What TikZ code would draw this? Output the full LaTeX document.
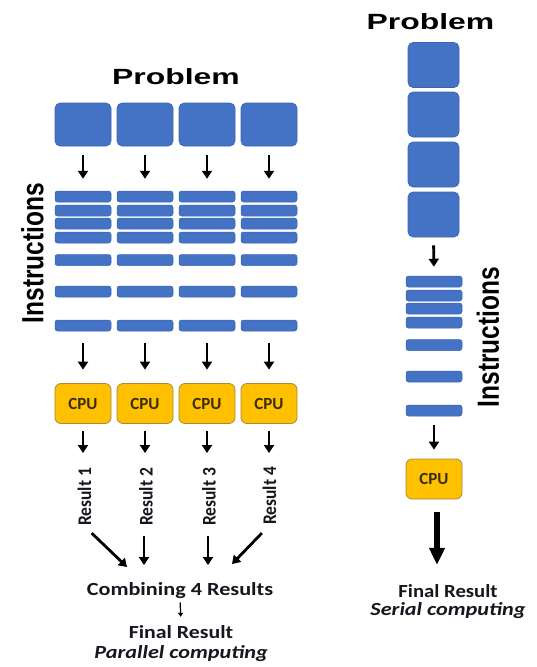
\documentclass[tikz,border=0pt]{standalone}
\usepackage{graphicx}
\usepackage{fontspec}
\setmainfont{Carlito}
\newfontfamily\arialf{Liberation Sans}
\usetikzlibrary{arrows.meta}
\definecolor{blk}{HTML}{4472C4}
\definecolor{blkdark}{HTML}{3A64B0}
\definecolor{cpuf}{HTML}{FFC000}
\definecolor{cpud}{HTML}{A88A3A}
\definecolor{txtd}{HTML}{16161E}
\definecolor{cputxt}{HTML}{3A2E10}
\begin{document}
\begin{tikzpicture}[x=1pt,y=-1pt,
  probbox/.style={rectangle, rounded corners=5pt, fill=blk, draw=blkdark, line width=0.6pt, minimum width=56pt, minimum height=43pt, inner sep=0pt},
  probboxr/.style={probbox, minimum width=51pt, minimum height=45pt},
  instbar/.style={rectangle, rounded corners=2.5pt, fill=blk, draw=blkdark, line width=0.5pt, minimum width=56pt, minimum height=11pt, inner sep=0pt},
  cpubox/.style={rectangle, rounded corners=6pt, fill=cpuf, draw=cpud, line width=0.8pt, minimum width=56pt, minimum height=40pt, inner sep=0pt, font=\fontsize{17}{17}\selectfont\bfseries, text=cputxt},
  arr/.style={-{Triangle[length=8pt,width=10pt]}, line width=2.8pt, black},
  bigarr/.style={-{Triangle[length=17pt,width=15pt]}, line width=5.5pt, black},
  smallarr/.style={-{Triangle[length=4pt,width=5pt]}, line width=1.2pt, black},
  title/.style={inner sep=0pt, anchor=base, font=\arialf\bfseries\fontsize{22}{22}\selectfont, text=black},
  insttxt/.style={inner sep=0pt, rotate=90, font=\arialf\bfseries\fontsize{24.5}{24.5}\selectfont, text=black},
  restxt/.style={inner sep=0pt, rotate=90, font=\bfseries\fontsize{17.5}{17.5}\selectfont, text=txtd},
  captxt/.style={inner sep=0pt, anchor=base, font=\bfseries\fontsize{18.5}{18.5}\selectfont, text=txtd},
  capit/.style={captxt, font=\bfseries\itshape\fontsize{18.5}{18.5}\selectfont}
]
\useasboundingbox[fill=white] (0,0) rectangle (537,667);

% ---------------- Parallel (left) ----------------
\node[title] (ptitle) at (176,84) {\scalebox{1.45}[1]{Problem}};
\node[insttxt] (pinst) at (32.5,253) {\scalebox{1}[1.25]{Instructions}};

\foreach \i/\x in {1/83,2/145,3/207,4/269}{
  \node[probbox] (p\i) at (\x,124.5) {};
  \foreach \j/\y in {1/196.5,2/210.5,3/223.5,4/237.5,5/260,6/291.5,7/325.5}{
    \node[instbar] (b\i-\j) at (\x,\y) {};
  }
  \node[cpubox] (c\i) at (\x,403.5) {CPU};
  \draw[arr, shorten <=9pt, shorten >=12pt] (p\i.south) -- (b\i-1.north);
  \draw[arr, shorten <=12pt, shorten >=13.5pt] (b\i-7.south) -- (c\i.north);
  \coordinate (e\i) at (\x,453);
  \draw[arr, shorten <=7pt] (c\i.south) -- (e\i);
}

\node[restxt] (r1) at (84.5,497) {\scalebox{1}[1.1]{Result 1}};
\node[restxt] (r2) at (146,497) {\scalebox{1}[1.1]{Result 2}};
\node[restxt] (r3) at (209,497) {\scalebox{1}[1.1]{Result 3}};
\node[restxt] (r4) at (269.5,496) {\scalebox{1}[1.1]{Result 4}};

\coordinate (t1) at (127,567);
\coordinate (t2) at (144,565);
\coordinate (t3) at (208,565);
\coordinate (t4) at (232,564);
\draw[arr, shorten <=10pt] (r1.west) -- (t1);
\draw[arr, shorten <=10pt] (r2.west -| t2) -- (t2);
\draw[arr, shorten <=10pt] (r3.west -| t3) -- (t3);
\draw[arr, shorten <=11pt] (r4.west) -- (t4);

\node[captxt] (comb) at (180,595) {\scalebox{1.2}[1]{Combining 4 Results}};
\node[captxt] (fin) at (181,638) {\scalebox{1.18}[1]{Final Result}};
\node[capit] (par) at (181,658) {\scalebox{1.2}[1]{Parallel computing}};
\draw[smallarr, shorten <=4pt, shorten >=8pt] (comb.south) -- (fin.north);

% ---------------- Serial (right) ----------------
\node[title] (stitle) at (430.5,29) {\scalebox{1.45}[1]{Problem}};
\node[insttxt] (sinst) at (488,337) {\scalebox{1}[1.25]{Instructions}};

\foreach \j/\y in {1/65,2/114.5,3/164.5,4/214.5}{
  \node[probboxr] (q\j) at (433.5,\y) {};
}
\foreach \j/\y in {1/281.5,2/295.5,3/308.5,4/322.5,5/345,6/376.5,7/410.5}{
  \node[instbar] (s\j) at (434,\y) {};
}
\node[cpubox] (c5) at (434,479) {CPU};
\draw[arr, shorten <=8pt, shorten >=9pt] (q4.south) -- (s1.north);
\draw[arr, shorten <=9pt, shorten >=9pt] (s7.south) -- (c5.north);

\node[captxt] (fin2) at (448,597) {\scalebox{1.12}[1]{Final Result}};
\node[capit] (ser) at (448,615) {\scalebox{1.2}[1]{Serial computing}};
\draw[bigarr, shorten <=13pt, shorten >=19pt] (c5.south -| 437,0) -- (fin2.north -| 437,0);
\end{tikzpicture}
\end{document}
